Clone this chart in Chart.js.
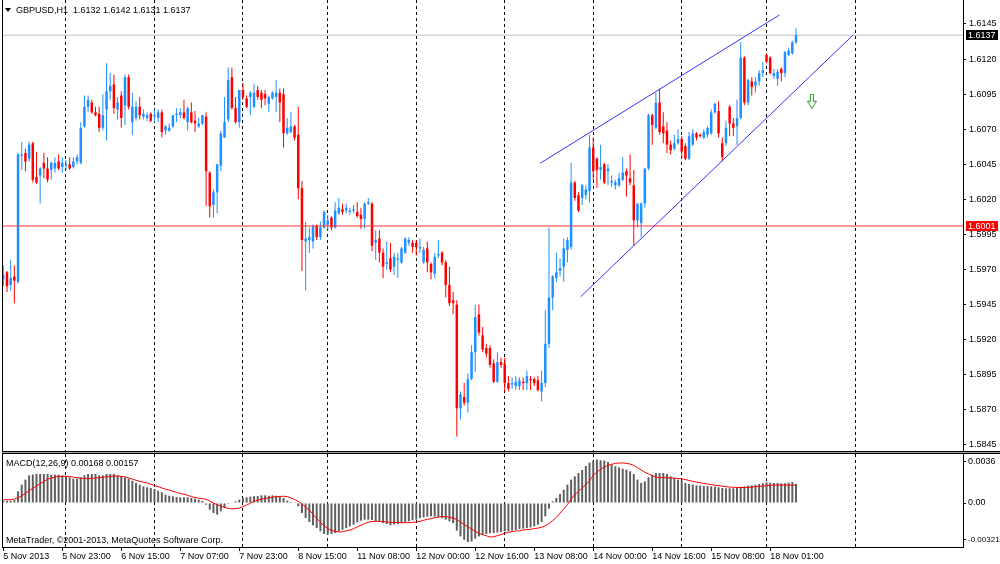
<!DOCTYPE html>
<html><head><meta charset="utf-8">
<script src="https://cdn.jsdelivr.net/npm/chart.js@4.4.1/dist/chart.umd.min.js"></script>
<style>
html,body{margin:0;padding:0;background:#fff;}
#wrap{position:relative;width:1000px;height:564px;overflow:hidden;background:#fff;}
canvas{position:absolute;left:0;}
#cMain{top:0;}
#cMacd{top:452px;}
.t{position:absolute;font-family:"Liberation Sans",Arial,sans-serif;font-size:9px;line-height:10px;color:#000;white-space:pre;}
#tri{position:absolute;left:5px;top:8px;width:0;height:0;border-left:3px solid transparent;border-right:3px solid transparent;border-top:4px solid #000;}
</style></head>
<body><div id="wrap">
<canvas id="cMain" width="1000" height="452"></canvas>
<canvas id="cMacd" width="1000" height="112"></canvas>
<div id="tri"></div>
<div class="t" id="hdr" style="left:16px;top:5px;"></div>
<div class="t" id="macdHdr" style="left:6px;top:458px;"></div>
<div class="t" id="copy" style="left:6px;top:535px;">MetaTrader, ©2001-2013, MetaQuotes Software Corp.</div>
</div>
<script>
// ---------------- data ----------------
const symbol = 'GBPUSD';
const timeframe = 'H1';
const opens = [
1.5963,1.5968,1.5959,1.5965,1.5961,1.6051,1.6053,1.6049,1.6060,1.6036,
1.6037,1.6046,1.6042,1.6041,1.6042,1.6047,1.6043,1.6044,1.6045,1.6043,
1.6047,1.6046,1.6072,1.6086,1.6089,1.6082,1.6081,1.6071,1.6084,1.6097,
1.6102,1.6084,1.6094,1.6087,1.6107,1.6075,1.6078,1.6086,1.6079,1.6078,
1.6081,1.6079,1.6078,1.6082,1.6069,1.6069,1.6072,1.6080,1.6080,1.6082,
1.6075,1.6082,1.6076,1.6072,1.6074,1.6079,1.6039,1.6016,1.6025,1.6044,
1.6064,1.6077,1.6107,1.6085,1.6075,1.6098,1.6092,1.6093,1.6086,1.6098,
1.6096,1.6095,1.6088,1.6092,1.6093,1.6096,1.6095,1.6067,1.6068,1.6072,
1.6066,1.6028,1.5990,1.5991,1.5990,1.6001,1.5993,1.6000,1.6002,1.6007,
1.6000,1.6010,1.6013,1.6012,1.6011,1.6012,1.6011,1.6009,1.6006,1.6017,
1.6017,1.5989,1.5992,1.5982,1.5974,1.5978,1.5972,1.5977,1.5975,1.5982,
1.5989,1.5989,1.5989,1.5985,1.5975,1.5985,1.5974,1.5967,1.5980,1.5982,
1.5975,1.5959,1.5948,1.5945,1.5871,1.5879,1.5875,1.5892,1.5911,1.5938,
1.5923,1.5914,1.5914,1.5903,1.5890,1.5904,1.5903,1.5889,1.5888,1.5887,
1.5887,1.5890,1.5889,1.5892,1.5892,1.5891,1.5883,1.5889,1.5917,1.5950,
1.5964,1.5969,1.5972,1.5984,1.5986,1.6032,1.6023,1.6021,1.6023,1.6026,
1.6057,1.6049,1.6041,1.6045,1.6040,1.6032,1.6030,1.6030,1.6034,1.6040,
1.6035,1.6030,1.6005,1.6003,1.6017,1.6042,1.6080,1.6071,1.6089,1.6072,
1.6069,1.6059,1.6056,1.6060,1.6063,1.6058,1.6049,1.6059,1.6067,1.6066,
1.6064,1.6066,1.6067,1.6082,1.6083,1.6060,1.6060,1.6086,1.6074,1.6072,
1.6078,1.6121,1.6089,1.6104,1.6101,1.6104,1.6110,1.6123,1.6121,1.6108,
1.6106,1.6113,1.6110,1.6123,1.6124,1.6132];
const highs = [
1.5973,1.5969,1.5977,1.5973,1.6053,1.6061,1.6056,1.6061,1.6061,1.6054,
1.6043,1.6053,1.6050,1.6047,1.6050,1.6052,1.6050,1.6048,1.6050,1.6050,
1.6052,1.6075,1.6094,1.6094,1.6091,1.6086,1.6086,1.6095,1.6117,1.6110,
1.6109,1.6093,1.6097,1.6109,1.6109,1.6096,1.6090,1.6093,1.6084,1.6082,
1.6082,1.6084,1.6084,1.6084,1.6073,1.6074,1.6080,1.6085,1.6085,1.6091,
1.6086,1.6089,1.6083,1.6078,1.6080,1.6082,1.6040,1.6027,1.6045,1.6069,
1.6093,1.6114,1.6114,1.6093,1.6098,1.6103,1.6094,1.6097,1.6102,1.6101,
1.6098,1.6098,1.6094,1.6097,1.6105,1.6099,1.6099,1.6078,1.6082,1.6073,
1.6086,1.6033,1.6004,1.6000,1.6002,1.6002,1.6004,1.6012,1.6009,1.6008,
1.6018,1.6021,1.6017,1.6017,1.6014,1.6016,1.6018,1.6014,1.6018,1.6021,
1.6018,1.5998,1.5998,1.5985,1.5990,1.5989,1.5982,1.5982,1.5986,1.5993,
1.5993,1.5991,1.5991,1.5992,1.5986,1.5990,1.5975,1.5982,1.5991,1.5983,
1.5977,1.5972,1.5954,1.5948,1.5883,1.5889,1.5896,1.5916,1.5945,1.5945,
1.5929,1.5917,1.5916,1.5906,1.5911,1.5907,1.5907,1.5894,1.5893,1.5894,
1.5893,1.5893,1.5898,1.5894,1.5893,1.5894,1.5898,1.5941,1.6000,1.5966,
1.5982,1.5978,1.5992,1.5993,1.6046,1.6033,1.6025,1.6031,1.6030,1.6066,
1.6064,1.6050,1.6059,1.6046,1.6045,1.6037,1.6034,1.6039,1.6050,1.6042,
1.6052,1.6041,1.6017,1.6018,1.6042,1.6081,1.6081,1.6096,1.6099,1.6082,
1.6075,1.6062,1.6066,1.6070,1.6065,1.6060,1.6068,1.6070,1.6068,1.6067,
1.6070,1.6072,1.6084,1.6089,1.6090,1.6064,1.6076,1.6087,1.6078,1.6091,
1.6132,1.6122,1.6106,1.6107,1.6107,1.6112,1.6118,1.6124,1.6122,1.6113,
1.6113,1.6114,1.6126,1.6128,1.6133,1.6142];
const lows = [
1.5958,1.5954,1.5955,1.5946,1.5960,1.6041,1.6040,1.6047,1.6032,1.6031,
1.6017,1.6035,1.6032,1.6034,1.6039,1.6041,1.6039,1.6041,1.6041,1.6042,
1.6045,1.6045,1.6071,1.6082,1.6081,1.6079,1.6068,1.6069,1.6062,1.6091,
1.6081,1.6077,1.6071,1.6073,1.6084,1.6066,1.6076,1.6077,1.6077,1.6076,
1.6075,1.6075,1.6075,1.6064,1.6066,1.6068,1.6071,1.6075,1.6078,1.6077,
1.6069,1.6074,1.6068,1.6071,1.6073,1.6015,1.6007,1.6007,1.6010,1.6040,
1.6064,1.6075,1.6084,1.6074,1.6071,1.6091,1.6085,1.6080,1.6085,1.6091,
1.6085,1.6087,1.6082,1.6091,1.6082,1.6075,1.6057,1.6066,1.6067,1.6062,
1.6020,1.5969,1.5955,1.5982,1.5985,1.5991,1.5991,1.5999,1.5998,1.5998,
1.5999,1.6009,1.6009,1.6010,1.6009,1.6010,1.6007,1.5999,1.5999,1.6016,
1.5983,1.5977,1.5975,1.5964,1.5970,1.5968,1.5966,1.5964,1.5974,1.5981,
1.5987,1.5982,1.5980,1.5982,1.5974,1.5968,1.5963,1.5964,1.5978,1.5973,
1.5950,1.5944,1.5938,1.5851,1.5863,1.5873,1.5868,1.5891,1.5897,1.5923,
1.5911,1.5907,1.5900,1.5889,1.5889,1.5900,1.5883,1.5883,1.5885,1.5884,
1.5884,1.5884,1.5884,1.5884,1.5887,1.5883,1.5876,1.5886,1.5914,1.5941,
1.5961,1.5965,1.5961,1.5975,1.5984,1.6019,1.6011,1.6016,1.6020,1.6018,
1.6034,1.6028,1.6034,1.6031,1.6030,1.6029,1.6027,1.6029,1.6033,1.6022,
1.6030,1.5987,1.6000,1.5993,1.6014,1.6041,1.6059,1.6070,1.6066,1.6060,
1.6053,1.6052,1.6055,1.6059,1.6049,1.6048,1.6048,1.6058,1.6062,1.6064,
1.6063,1.6064,1.6066,1.6081,1.6064,1.6047,1.6058,1.6065,1.6065,1.6059,
1.6077,1.6087,1.6087,1.6094,1.6096,1.6101,1.6107,1.6117,1.6109,1.6106,
1.6101,1.6104,1.6107,1.6122,1.6123,1.6131];
const closes = [
1.5966,1.5958,1.5964,1.5962,1.6052,1.6052,1.6047,1.6059,1.6034,1.6032,
1.6042,1.6042,1.6034,1.6046,1.6046,1.6042,1.6046,1.6045,1.6042,1.6047,
1.6050,1.6071,1.6086,1.6091,1.6082,1.6080,1.6071,1.6080,1.6097,1.6101,
1.6085,1.6089,1.6078,1.6107,1.6086,1.6086,1.6086,1.6080,1.6081,1.6080,
1.6076,1.6080,1.6082,1.6068,1.6072,1.6071,1.6080,1.6081,1.6082,1.6078,
1.6085,1.6075,1.6074,1.6074,1.6080,1.6040,1.6015,1.6025,1.6045,1.6067,
1.6075,1.6105,1.6085,1.6075,1.6098,1.6093,1.6086,1.6096,1.6096,1.6093,
1.6091,1.6092,1.6093,1.6096,1.6096,1.6089,1.6067,1.6071,1.6072,1.6064,
1.6028,1.5991,1.5992,1.5993,1.6001,1.5993,1.6000,1.6011,1.6005,1.6000,
1.6012,1.6014,1.6011,1.6014,1.6012,1.6013,1.6008,1.6006,1.6017,1.6018,
1.5987,1.5991,1.5982,1.5972,1.5975,1.5970,1.5979,1.5978,1.5985,1.5992,
1.5991,1.5986,1.5986,1.5986,1.5984,1.5975,1.5968,1.5979,1.5981,1.5975,
1.5959,1.5946,1.5946,1.5871,1.5881,1.5875,1.5892,1.5911,1.5936,1.5925,
1.5913,1.5910,1.5902,1.5890,1.5904,1.5902,1.5889,1.5885,1.5889,1.5890,
1.5891,1.5889,1.5894,1.5891,1.5889,1.5884,1.5889,1.5917,1.5950,1.5965,
1.5968,1.5971,1.5985,1.5991,1.6032,1.6021,1.6012,1.6030,1.6027,1.6057,
1.6040,1.6041,1.6043,1.6032,1.6042,1.6033,1.6032,1.6035,1.6039,1.6037,
1.6032,1.6005,1.6017,1.6017,1.6042,1.6080,1.6073,1.6089,1.6068,1.6067,
1.6059,1.6055,1.6060,1.6063,1.6054,1.6049,1.6065,1.6067,1.6064,1.6065,
1.6068,1.6071,1.6082,1.6088,1.6067,1.6050,1.6071,1.6074,1.6071,1.6078,
1.6121,1.6089,1.6105,1.6100,1.6104,1.6110,1.6112,1.6118,1.6110,1.6110,
1.6111,1.6110,1.6125,1.6126,1.6132,1.6137];
const macdMain = [
0.00020,0.00020,0.00020,0.00025,0.00102,0.00161,0.00205,0.00243,0.00249,0.00255,
0.00255,0.00255,0.00255,0.00249,0.00249,0.00249,0.00243,0.00234,0.00225,0.00214,
0.00214,0.00225,0.00243,0.00255,0.00255,0.00255,0.00243,0.00243,0.00255,0.00255,
0.00255,0.00243,0.00234,0.00225,0.00214,0.00196,0.00176,0.00161,0.00146,0.00138,
0.00132,0.00123,0.00108,0.00094,0.00073,0.00064,0.00059,0.00053,0.00050,0.00050,
0.00050,0.00044,0.00038,0.00029,0.00020,-0.00015,-0.00059,-0.00088,-0.00102,-0.00073,
-0.00044,-0.00009,0.00006,0.00015,0.00029,0.00044,0.00050,0.00056,0.00059,0.00061,
0.00067,0.00067,0.00064,0.00067,0.00064,0.00059,0.00044,0.00020,0.00009,0.00002,
-0.00029,-0.00088,-0.00132,-0.00167,-0.00196,-0.00220,-0.00249,-0.00272,-0.00278,-0.00272,
-0.00263,-0.00249,-0.00235,-0.00220,-0.00205,-0.00190,-0.00170,-0.00155,-0.00146,-0.00146,
-0.00149,-0.00158,-0.00167,-0.00176,-0.00184,-0.00196,-0.00190,-0.00184,-0.00176,-0.00170,
-0.00161,-0.00152,-0.00146,-0.00132,-0.00126,-0.00120,-0.00117,-0.00120,-0.00126,-0.00132,
-0.00146,-0.00161,-0.00176,-0.00243,-0.00293,-0.00322,-0.00342,-0.00337,-0.00313,-0.00293,
-0.00278,-0.00272,-0.00266,-0.00263,-0.00258,-0.00255,-0.00249,-0.00249,-0.00243,-0.00237,
-0.00228,-0.00225,-0.00220,-0.00214,-0.00205,-0.00190,-0.00167,-0.00117,-0.00050,0.00015,
0.00044,0.00079,0.00117,0.00161,0.00205,0.00234,0.00263,0.00290,0.00325,0.00354,
0.00372,0.00381,0.00375,0.00372,0.00360,0.00337,0.00322,0.00313,0.00301,0.00293,
0.00278,0.00255,0.00205,0.00176,0.00190,0.00225,0.00249,0.00263,0.00263,0.00263,
0.00255,0.00234,0.00220,0.00205,0.00196,0.00176,0.00167,0.00161,0.00155,0.00152,
0.00149,0.00149,0.00146,0.00143,0.00138,0.00132,0.00129,0.00129,0.00129,0.00132,
0.00143,0.00146,0.00152,0.00155,0.00161,0.00167,0.00173,0.00181,0.00178,0.00176,
0.00176,0.00173,0.00173,0.00178,0.00184,0.00168];
const macdSignal = [
0.00029,0.00029,0.00029,0.00035,0.00045,0.00063,0.00085,0.00108,0.00128,0.00150,
0.00170,0.00190,0.00208,0.00220,0.00228,0.00233,0.00234,0.00234,0.00232,0.00227,
0.00222,0.00218,0.00215,0.00214,0.00216,0.00219,0.00223,0.00226,0.00230,0.00233,
0.00236,0.00237,0.00234,0.00229,0.00220,0.00210,0.00200,0.00190,0.00183,0.00176,
0.00165,0.00153,0.00143,0.00132,0.00122,0.00113,0.00103,0.00093,0.00086,0.00076,
0.00068,0.00056,0.00048,0.00042,0.00039,0.00032,0.00018,0.00000,-0.00015,-0.00027,
-0.00039,-0.00047,-0.00052,-0.00049,-0.00045,-0.00032,-0.00018,-0.00002,0.00015,0.00025,
0.00033,0.00040,0.00046,0.00051,0.00055,0.00058,0.00059,0.00056,0.00044,0.00030,
0.00015,-0.00009,-0.00035,-0.00065,-0.00099,-0.00135,-0.00170,-0.00200,-0.00225,-0.00240,
-0.00249,-0.00254,-0.00252,-0.00246,-0.00238,-0.00225,-0.00210,-0.00195,-0.00180,-0.00169,
-0.00163,-0.00161,-0.00161,-0.00164,-0.00167,-0.00170,-0.00170,-0.00173,-0.00173,-0.00173,
-0.00173,-0.00170,-0.00167,-0.00161,-0.00152,-0.00143,-0.00138,-0.00129,-0.00123,-0.00120,
-0.00120,-0.00126,-0.00132,-0.00146,-0.00167,-0.00190,-0.00208,-0.00228,-0.00249,-0.00266,
-0.00278,-0.00287,-0.00299,-0.00296,-0.00287,-0.00278,-0.00266,-0.00258,-0.00252,-0.00246,
-0.00243,-0.00237,-0.00234,-0.00231,-0.00225,-0.00220,-0.00214,-0.00199,-0.00181,-0.00155,
-0.00126,-0.00088,-0.00053,-0.00015,0.00035,0.00073,0.00102,0.00132,0.00161,0.00196,
0.00243,0.00272,0.00295,0.00315,0.00330,0.00340,0.00348,0.00351,0.00351,0.00348,
0.00342,0.00330,0.00310,0.00290,0.00270,0.00255,0.00240,0.00228,0.00223,0.00222,
0.00222,0.00220,0.00218,0.00215,0.00212,0.00205,0.00198,0.00190,0.00184,0.00178,
0.00172,0.00166,0.00161,0.00156,0.00152,0.00148,0.00143,0.00140,0.00138,0.00136,
0.00136,0.00136,0.00138,0.00140,0.00143,0.00146,0.00149,0.00152,0.00155,0.00157,
0.00158,0.00158,0.00158,0.00157,0.00157,0.00157];
const timeLabels = ['5 Nov 2013','5 Nov 23:00','6 Nov 15:00','7 Nov 07:00','7 Nov 23:00','8 Nov 15:00','11 Nov 08:00','12 Nov 00:00','12 Nov 16:00','13 Nov 08:00','14 Nov 00:00','14 Nov 16:00','15 Nov 08:00','18 Nov 01:00'];
const labelBars = [0,16,32,48,64,80,96,112,128,144,160,176,192,208];
const daySeparatorBars = [17,41,65,88,112,136,160,184,207,231];
const priceTicks = [1.5845,1.5870,1.5895,1.5920,1.5945,1.5970,1.5995,1.6020,1.6045,1.6070,1.6095,1.6120,1.6145];
const macdTicks = [0.0036,0,-0.00321];
const macdTickLabels = ['0.0036','0.00','-0.00321'];
const levelPrice = 1.6001;
const upperChannelBars = [145.6,210.5];
const upperChannelPrices = [1.60457,1.61514];
const lowerChannelBars = [156.6,230.5];
const lowerChannelPrices = [1.59506,1.61372];
const sellArrowBar = 219.3;
const sellArrowPrice = 1.60896;

// ---------------- view settings ----------------
const X_MIN = -0.353, X_MAX = 260.29;
const PRICE_MIN = 1.58406, PRICE_MAX = 1.61621;
const MACD_MIN = -0.003863, MACD_MAX = 0.004302;
const BLUE = '#1e90ff', RED = '#ff0000';
const FONT = {family:'"Liberation Sans", Arial, sans-serif', size:9};

Chart.defaults.font.family = FONT.family;
Chart.defaults.font.size = 9;
Chart.defaults.color = '#000';

const last = closes.length - 1;
document.getElementById('hdr').textContent = symbol + ',' + timeframe + '  ' + opens[last].toFixed(4) + ' ' + highs[last].toFixed(4) + ' ' + lows[last].toFixed(4) + ' ' + closes[last].toFixed(4);
document.getElementById('macdHdr').textContent = 'MACD(12,26,9) ' + macdMain[last].toFixed(5) + ' ' + macdSignal[last].toFixed(5);

const idx = closes.map((_, i) => i);
const candleColors = closes.map((c, i) => c >= opens[i] ? BLUE : RED);

function makeArrow() {
  const c = document.createElement('canvas');
  c.width = 10; c.height = 16;
  const g = c.getContext('2d');
  g.strokeStyle = '#1f8f1f'; g.lineWidth = 1;
  g.beginPath();
  g.moveTo(3.5,0.5); g.lineTo(6.5,0.5); g.lineTo(6.5,7.5); g.lineTo(9.5,7.5);
  g.lineTo(5,14.5); g.lineTo(0.5,7.5); g.lineTo(3.5,7.5); g.closePath();
  g.stroke();
  return c;
}
const arrowImg = makeArrow();

function fixY(s) { s.width = 37; s.paddingTop = 0; s.paddingBottom = 0; }
function zeroH(s) { s.height = 0; s.paddingLeft = 0; s.paddingRight = 0; }

function dayGridAxis() {
  return {
    type:'linear', position:'bottom', min:X_MIN, max:X_MAX, bounds:'data', offset:false,
    afterBuildTicks: a => { a.ticks = daySeparatorBars.map(v => ({value:v})); },
    afterFit: zeroH,
    ticks:{display:false},
    grid:{display:true, drawOnChartArea:true, drawTicks:false, color:'#000', lineWidth:1, offset:false},
    border:{display:false, dash:[3,3]}
  };
}

const framePluginMain = {
  id:'frameMain',
  afterDraw(chart) {
    const {ctx, chartArea:ca} = chart;
    const ys = chart.scales.y;
    ctx.save();
    ctx.fillStyle = '#000';
    ctx.fillRect(ca.left, 0, 1, ca.bottom);
    ctx.fillRect(ca.left, ca.bottom, 1000 - ca.left, 1);
    const box = (val, bg) => {
      const y = Math.round(ys.getPixelForValue(val));
      ctx.fillStyle = bg;
      ctx.fillRect(ys.left + 3, y - 5, 32, 10);
      ctx.fillStyle = '#fff';
      ctx.font = '9px ' + FONT.family;
      ctx.textBaseline = 'middle';
      ctx.textAlign = 'left';
      ctx.fillText(val.toFixed(4), ys.left + 5, y + 0.5);
    };
    box(closes[last], '#000');
    box(levelPrice, '#ff0000');
    ctx.restore();
  }
};

new Chart(document.getElementById('cMain'), {
  type:'bar',
  data:{datasets:[
    {type:'line', data:[{x:sellArrowBar, y:sellArrowPrice}], showLine:false, pointStyle:arrowImg, pointRadius:5, order:0},
    {type:'line', data:upperChannelBars.map((b,i)=>({x:b, y:upperChannelPrices[i]})), borderColor:'#3333ff', borderWidth:1, pointRadius:0, order:0},
    {type:'line', data:lowerChannelBars.map((b,i)=>({x:b, y:lowerChannelPrices[i]})), borderColor:'#3333ff', borderWidth:1, pointRadius:0, order:0},
    {type:'line', data:[{x:X_MIN-1, y:levelPrice},{x:X_MAX+1, y:levelPrice}], borderColor:'#ff3030', borderWidth:1, pointRadius:0, order:0},
    {type:'bar', data:idx.map(i=>({x:i, y:[opens[i], closes[i]]})), backgroundColor:candleColors, grouped:false, maxBarThickness:2.5, minBarLength:1, borderWidth:0, order:1},
    {type:'bar', data:idx.map(i=>({x:i, y:[lows[i], highs[i]]})), backgroundColor:candleColors, grouped:false, maxBarThickness:1, borderWidth:0, order:2},
    {type:'line', data:[{x:X_MIN-1, y:closes[last]},{x:X_MAX+1, y:closes[last]}], borderColor:'#c0c0c0', borderWidth:1, pointRadius:0, order:5}
  ]},
  options:{
    responsive:false, animation:false, devicePixelRatio:1, events:[],
    layout:{autoPadding:false, padding:{left:2, right:0, top:0, bottom:1}},
    plugins:{legend:{display:false}, tooltip:{enabled:false}},
    scales:{
      x: dayGridAxis(),
      y:{
        type:'linear', position:'right', min:PRICE_MIN, max:PRICE_MAX, bounds:'data', beginAtZero:false,
        afterBuildTicks: a => { a.ticks = priceTicks.map(v => ({value:v})); },
        afterFit: fixY,
        ticks:{font:FONT, color:'#000', padding:3, callback:v => v.toFixed(4)},
        grid:{drawOnChartArea:false, drawTicks:true, tickLength:3, tickColor:'#000'},
        border:{display:true, color:'#000', width:1}
      }
    }
  },
  plugins:[framePluginMain]
});

const framePluginMacd = {
  id:'frameMacd',
  afterDraw(chart) {
    const {ctx, chartArea:ca} = chart;
    ctx.save();
    ctx.fillStyle = '#a0a0a0';
    ctx.fillRect(ca.left, 0, 1000 - ca.left, 1);
    ctx.fillStyle = '#000';
    ctx.fillRect(ca.left, 1, 1000 - ca.left, 1);
    ctx.fillRect(ca.left, ca.top, 1, ca.bottom - ca.top);
    ctx.restore();
  }
};

new Chart(document.getElementById('cMacd'), {
  type:'bar',
  data:{datasets:[
    {type:'line', data:idx.map(i=>({x:i, y:macdSignal[i]})), borderColor:'#ff0000', borderWidth:1, pointRadius:0, tension:0, order:0, xAxisID:'x', yAxisID:'y'},
    {type:'bar', data:idx.map(i=>({x:i, y:macdMain[i]})), backgroundColor:'#5f5f5f', grouped:false, maxBarThickness:2, borderWidth:0, order:1, xAxisID:'x', yAxisID:'y'}
  ]},
  options:{
    responsive:false, animation:false, devicePixelRatio:1, events:[],
    layout:{autoPadding:false, padding:{left:2, right:0, top:2, bottom:0}},
    plugins:{legend:{display:false}, tooltip:{enabled:false}},
    scales:{
      x:{
        type:'linear', position:'bottom', min:X_MIN, max:X_MAX, bounds:'data', offset:false,
        afterBuildTicks: a => { a.ticks = labelBars.map(v => ({value:v})); },
        afterFit: s => { s.height = 17; s.paddingLeft = 0; s.paddingRight = 0; },
        ticks:{display:true, autoSkip:false, maxRotation:0, minRotation:0, align:'start', padding:0, font:FONT, color:'#000', callback:(v,i) => timeLabels[i]},
        grid:{display:true, drawOnChartArea:false, drawTicks:true, tickLength:4, tickColor:'#000', offset:false},
        border:{display:true, color:'#000', width:1}
      },
      xg: dayGridAxis(),
      y:{
        type:'linear', position:'right', min:MACD_MIN, max:MACD_MAX, bounds:'data', beginAtZero:false,
        afterBuildTicks: a => { a.ticks = macdTicks.map(v => ({value:v})); },
        afterFit: fixY,
        ticks:{
          font: c => (macdTickLabels[c.index] || '').length > 6 ? {family:FONT.family, size:8} : FONT,
          color:'#000', padding:2, callback:(v,i) => macdTickLabels[i]
        },
        grid:{drawOnChartArea:false, drawTicks:true, tickLength:3, tickColor:'#000'},
        border:{display:true, color:'#000', width:1}
      }
    }
  },
  plugins:[framePluginMacd]
});
</script>
</body></html>
